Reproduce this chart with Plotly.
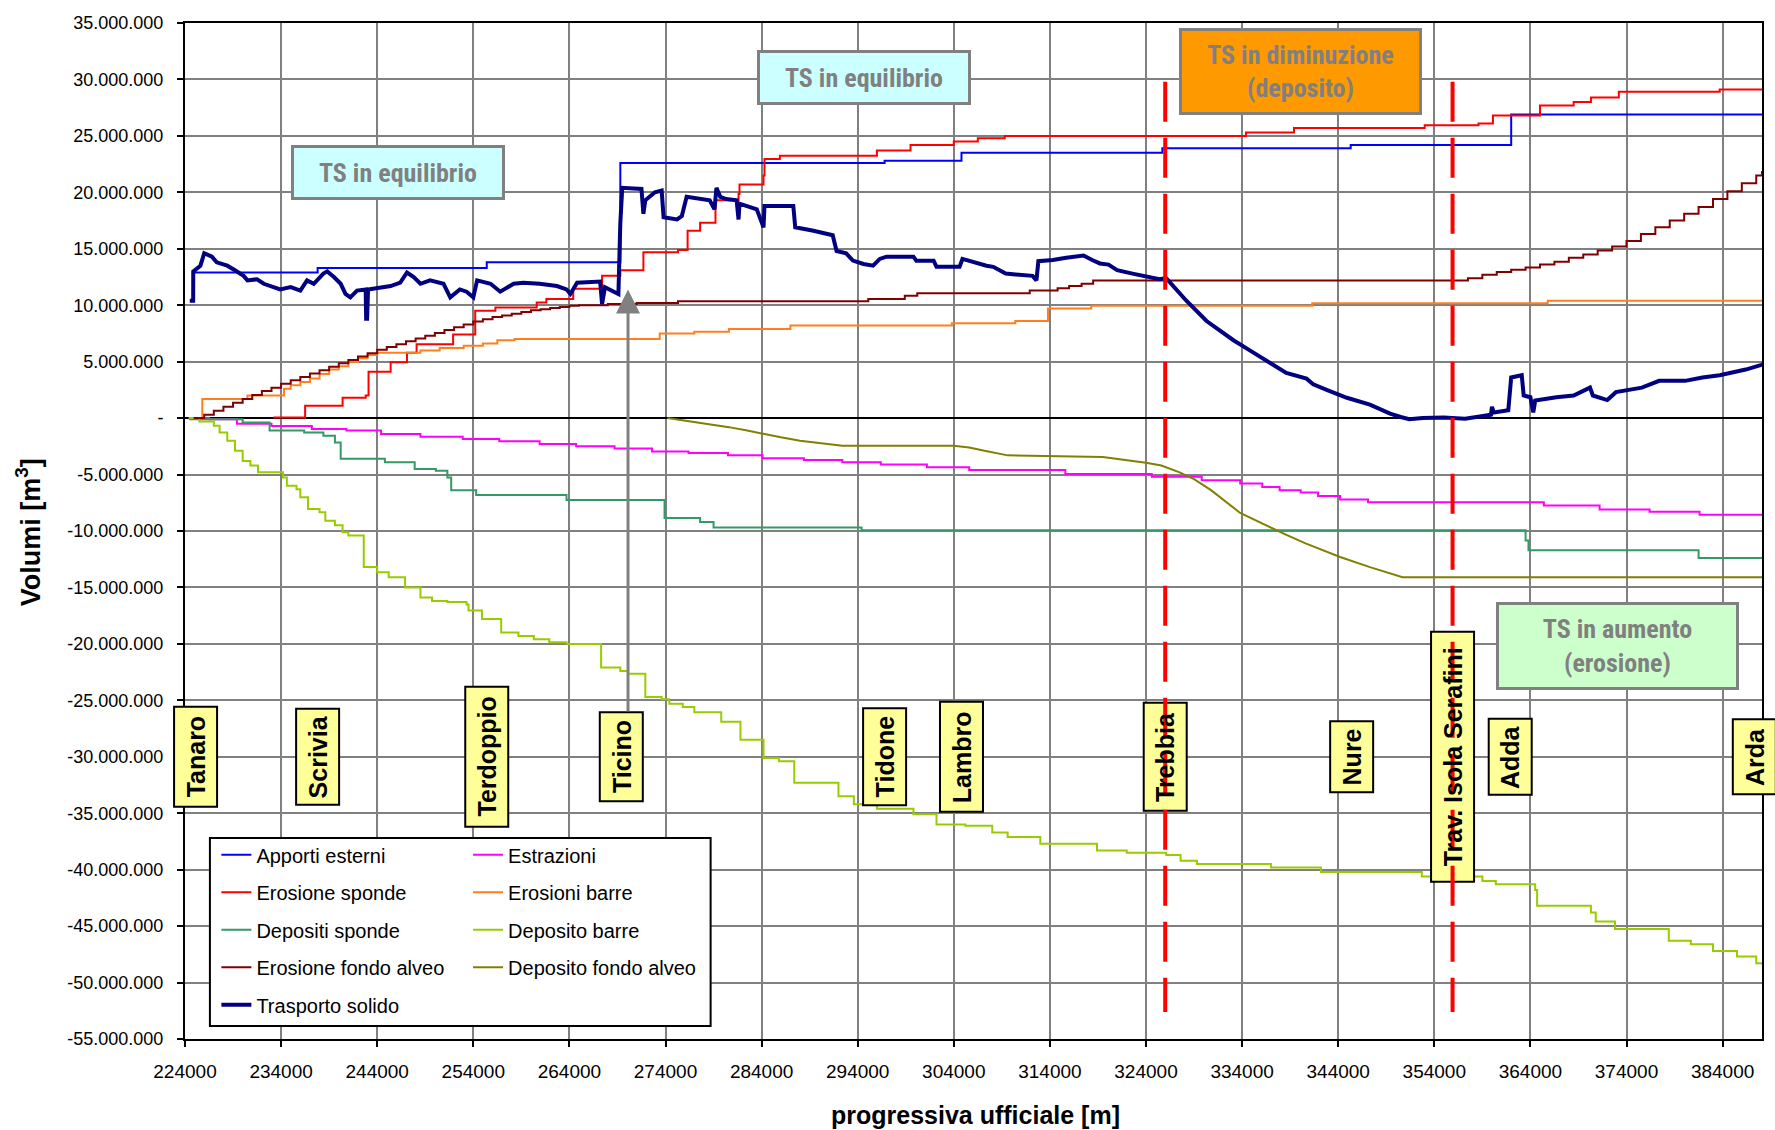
import plotly.graph_objects as go

# ---------------- data (x in km of "progressiva", y in millions of m3) ----------------
apporti_x = [224.9, 237.8, 255.4, 269.3, 296.8, 304.8, 325.7, 345.3, 362.0, 388.1]
apporti_y = [12.9, 13.3, 13.8, 22.6, 22.8, 23.5, 23.9, 24.2, 26.9, 26.9]

erosione_sponde_x = [233.2, 236.5, 240.4, 242.8, 243.1, 245.4, 247.1, 248.1, 251.9, 254.2, 256.3,
                     260.6, 261.6, 264.4, 267.4, 269.3, 271.7, 275.3, 276.3, 277.6, 279.2, 281.6,
                     281.7, 284.2, 284.3, 285.9, 296.0, 299.5, 304.0, 306.5, 309.3, 334.4, 339.4,
                     353.0, 358.6, 360.1, 365.0, 368.5, 370.3, 373.2, 383.7, 388.1]
erosione_sponde_y = [0.05, 1.1, 1.8, 2.0, 4.1, 4.95, 5.8, 6.55, 7.4, 9.5, 9.8,
                     10.25, 10.55, 11.45, 12.6, 13.1, 14.7, 14.9, 16.6, 17.3, 19.3, 19.85,
                     20.7, 21.5, 22.96, 23.25, 23.7, 24.2, 24.5, 24.8, 25.0, 25.3, 25.7,
                     25.95, 26.1, 26.8, 27.7, 28.0, 28.4, 28.9, 29.1, 29.1]

depositi_sponde_x = [224.4, 230.0, 232.8, 236.4, 238.4, 239.6, 240.2, 244.8, 247.9, 250.1, 251.3,
                     251.7, 254.3, 263.7, 273.9, 277.6, 279.0, 294.4, 363.5, 363.8, 381.5, 388.1]
depositi_sponde_y = [-0.1, -0.38, -1.1, -1.27, -1.56, -2.15, -3.6, -3.9, -4.5, -4.66, -5.25,
                     -6.4, -6.8, -7.26, -8.85, -9.2, -9.7, -9.94, -10.85, -11.7, -12.4, -12.4]

erosione_fondo_x = [224.9, 226, 227, 228, 229, 230, 231, 232, 233, 234, 235, 236, 237, 238, 239,
                    240, 241, 242, 243, 244, 245, 246, 247, 248, 249, 250, 251, 252, 253, 254,
                    255, 256, 257, 258, 259, 260, 261, 262, 263, 264, 265, 268, 271, 275.3,
                    295.1, 298.9, 300.2, 311.9, 314.8, 316.0, 317.3, 318.5, 357.5, 359.0,
                    360.5, 362.0, 363.5, 365.0, 366.5, 368.0, 369.5, 371.0, 372.5, 374.0,
                    375.5, 377.0, 378.5, 380.0, 381.5, 383.0, 384.5, 386.0, 387.5, 388.1]
erosione_fondo_y = [0.0, 0.3, 0.65, 1.0, 1.35, 1.7, 2.05, 2.4, 2.7, 3.05, 3.35, 3.65, 3.95, 4.25,
                    4.55, 4.85, 5.15, 5.45, 5.75, 6.05, 6.3, 6.55, 6.8, 7.05, 7.3, 7.55, 7.8,
                    8.05, 8.3, 8.55, 8.75, 8.95, 9.1, 9.25, 9.4, 9.55, 9.65, 9.75, 9.85, 9.95,
                    10.0, 10.1, 10.2, 10.35, 10.55, 10.85, 11.05, 11.3, 11.5, 11.7, 11.9, 12.2,
                    12.4, 12.7, 12.95, 13.15, 13.35, 13.6, 13.85, 14.2, 14.5, 14.85, 15.2, 15.7,
                    16.3, 16.9, 17.5, 18.1, 18.7, 19.4, 20.1, 20.8, 21.5, 21.9]

estrazioni_x = [224.4, 226.5, 229.4, 233.0, 237.2, 240.8, 244.4, 248.5, 252.9, 256.7, 260.9,
                264.7, 268.7, 272.6, 276.4, 280.5, 284.1, 288.4, 292.4, 296.4, 301.2, 305.6,
                315.6, 324.6, 329.8, 333.8, 336.1, 337.9, 340.1, 341.9, 344.2, 347.1, 365.4,
                371.2, 376.4, 381.6, 388.1]
estrazioni_y = [0.0, -0.1, -0.5, -0.7, -0.97, -1.1, -1.4, -1.65, -1.86, -2.06, -2.3,
                -2.5, -2.7, -2.95, -3.1, -3.3, -3.55, -3.7, -3.9, -4.1, -4.35, -4.6,
                -4.95, -5.2, -5.5, -5.8, -6.1, -6.4, -6.6, -6.9, -7.2, -7.45, -7.75,
                -8.1, -8.3, -8.55, -8.55]

erosioni_barre_x = [224.4, 225.8, 230.5, 234.3, 235.0, 236, 237, 238, 239, 240, 241, 242, 243,
                    244, 248.5, 250.5, 253.0, 255.0, 256.5, 258.3, 273.4, 277.0, 280.6, 287.0,
                    303.8, 310.4, 313.8, 318.3, 341.3, 365.8, 388.1]
erosioni_barre_y = [0.0, 1.7, 2.0, 2.6, 2.9, 3.2, 3.5, 3.9, 4.3, 4.6, 5.0, 5.3, 5.6,
                    5.8, 6.0, 6.2, 6.4, 6.6, 6.9, 7.0, 7.5, 7.66, 7.9, 8.2,
                    8.4, 8.6, 9.7, 9.96, 10.17, 10.4, 10.4]

deposito_barre_x = [224.4, 225.5, 227.0, 227.6, 228.4, 229.2, 230.0, 230.8, 231.6, 234.2, 234.6,
                    235.6, 236.0, 236.8, 238.0, 238.6, 239.6, 240.4, 241.0, 242.6, 244.0, 245.2,
                    246.9, 248.5, 249.7, 251.3, 253.3, 253.5, 254.9, 256.9, 258.7, 260.3, 261.9,
                    263.7, 267.3, 269.3, 270.1, 271.9, 273.6, 274.4, 275.8, 277.0, 279.8, 281.8,
                    284.2, 285.8, 287.4, 292.0, 293.6, 296.0, 299.8, 302.2, 305.2, 308.0, 309.6,
                    313.0, 318.9, 322.0, 326.1, 327.6, 329.3, 337.0, 342.2, 352.7, 359.0, 360.4,
                    364.5, 364.7, 370.3, 370.8, 372.8, 378.4, 380.7, 383.0, 385.5, 387.5, 388.1]
deposito_barre_y = [0.0, -0.3, -0.68, -1.27, -2.0, -2.9, -3.8, -4.2, -4.8, -5.25, -6.0,
                    -6.3, -7.0, -8.05, -8.35, -9.1, -9.5, -10.1, -10.4, -13.2, -13.66, -14.1,
                    -15.0, -15.9, -16.2, -16.3, -16.5, -17.05, -17.8, -19.0, -19.3, -19.6, -19.85,
                    -20.0, -22.1, -22.4, -22.65, -24.7, -24.9, -25.3, -25.6, -26.05, -26.9, -28.5,
                    -30.1, -30.4, -32.3, -33.5, -34.2, -34.6, -35.1, -36.0, -36.1, -36.7, -37.1,
                    -37.7, -38.3, -38.5, -38.7, -39.2, -39.5, -39.8, -40.2, -40.6, -41.0, -41.3,
                    -41.8, -43.2, -43.8, -44.6, -45.25, -46.3, -46.6, -47.2, -47.7, -48.3, -48.4]

deposito_fondo_x = [274.2, 276.6, 278.6, 280.6, 282.5, 284.1, 286.0, 288.0, 290.0, 292.4, 304.0,
                    305.6, 307.2, 309.6, 319.5, 321.9, 324.0, 325.6, 327.5, 329.0, 330.8, 333.8,
                    336.2, 338.5, 340.6, 344.2, 347.3, 350.7, 388.1]
deposito_fondo_y = [0.0, -0.3, -0.5, -0.8, -1.1, -1.4, -1.7, -2.0, -2.2, -2.45, -2.45,
                    -2.6, -2.9, -3.3, -3.45, -3.7, -3.95, -4.2, -4.8, -5.4, -6.4, -8.4,
                    -9.4, -10.3, -11.1, -12.3, -13.2, -14.1, -14.1]

trasporto_x = [224.5, 224.85, 224.86, 225.6, 226.0, 226.8, 227.3, 228.4, 229.2, 230.1, 230.5,
               231.5, 232.2, 232.9, 233.9, 235.0, 236.0, 236.7, 237.4, 238.4, 238.8, 239.5,
               240.2, 240.7, 241.2, 241.9, 242.8, 242.85, 242.95, 243.05, 244.3, 245.4, 246.4,
               247.1, 247.8, 248.5, 249.5, 250.9, 251.6, 252.6, 253.3, 254.0, 254.4, 255.8,
               256.8, 258.2, 259.2, 260.9, 262.7, 263.7, 264.1, 264.8, 267.2, 267.4, 267.7,
               268.6, 269.1, 269.3, 269.5, 271.5, 271.7, 271.9, 272.9, 273.6, 273.8, 275.2,
               275.7, 276.2, 277.6, 278.6, 279.1, 279.3, 279.7, 280.3, 281.4, 281.6, 281.7,
               282.4, 283.5, 284.2, 284.3, 287.3, 287.5, 289.4, 291.4, 291.8, 292.8, 293.5,
               294.6, 295.6, 296.3, 297.0, 299.8, 300.1, 301.9, 302.2, 304.6, 304.9, 306.0,
               307.4, 308.1, 309.4, 312.2, 312.6, 312.8, 314.3, 315.7, 317.1, 317.5, 318.4,
               319.2, 320.1, 321.0, 322.6, 324.3, 325.4, 326.1, 326.8, 328.2, 330.3, 333.1,
               334.8, 337.6, 338.6, 340.7, 341.4, 342.8, 344.9, 347.3, 349.4, 350.5, 351.4,
               352.8, 355.0, 357.2, 359.9, 360.0, 360.2, 361.7, 362.0, 363.1, 363.3, 364.0,
               364.3, 364.5, 366.7, 368.5, 370.2, 370.5, 372.0, 372.9, 375.6, 377.4, 380.1,
               381.9, 383.7, 386.4, 388.4]
trasporto_y = [10.4, 10.4, 13.0, 13.5, 14.6, 14.3, 13.8, 13.5, 13.1, 12.6, 12.2,
               12.3, 11.9, 11.7, 11.4, 11.6, 11.3, 12.2, 11.9, 12.8, 13.0, 12.5,
               11.9, 11.0, 10.7, 11.3, 11.4, 8.8, 8.8, 11.4, 11.6, 11.7, 12.0,
               12.9, 12.5, 11.9, 12.2, 11.9, 10.7, 11.4, 11.2, 10.7, 12.2, 11.9,
               11.2, 11.9, 12.0, 11.9, 11.7, 11.4, 11.0, 12.0, 12.1, 10.1, 11.6,
               11.2, 11.0, 17.3, 20.4, 20.3, 18.1, 19.3, 20.0, 20.15, 17.8, 17.6,
               17.9, 19.6, 19.4, 19.3, 18.5, 20.4, 19.6, 19.4, 19.3, 17.6, 19.0,
               18.8, 18.5, 16.9, 18.8, 18.8, 16.9, 16.6, 16.2, 14.8, 14.6, 13.95,
               13.65, 13.5, 14.1, 14.3, 14.3, 13.95, 13.95, 13.4, 13.4, 14.1, 13.8,
               13.5, 13.4, 12.8, 12.6, 12.2, 13.9, 14.0, 14.2, 14.3, 14.4, 14.0,
               13.7, 13.6, 13.1, 12.8, 12.5, 12.3, 12.4, 11.7, 10.4, 8.6, 6.9,
               6.0, 4.6, 4.0, 3.5, 3.0, 2.5, 1.8, 1.2, 0.4, 0.1, -0.1,
               0.0, 0.05, -0.05, 0.3, 1.0, 0.5, 0.7, 3.6, 3.8, 2.0, 1.85,
               0.5, 1.55, 1.85, 2.0, 2.7, 2.0, 1.6, 2.3, 2.7, 3.3, 3.3,
               3.6, 3.8, 4.3, 4.8]

# tick values / labels
y_tick_vals = [35, 30, 25, 20, 15, 10, 5, 0, -5, -10, -15, -20, -25, -30, -35, -40, -45, -50, -55]
y_tick_text = ["35.000.000", "30.000.000", "25.000.000", "20.000.000", "15.000.000", "10.000.000",
               "5.000.000", "-", "-5.000.000", "-10.000.000", "-15.000.000", "-20.000.000",
               "-25.000.000", "-30.000.000", "-35.000.000", "-40.000.000", "-45.000.000",
               "-50.000.000", "-55.000.000"]
x_tick_vals = [224000, 234000, 244000, 254000, 264000, 274000, 284000, 294000, 304000, 314000,
               324000, 334000, 344000, 354000, 364000, 374000, 384000]
x_tick_text = ["224000", "234000", "244000", "254000", "264000", "274000", "284000", "294000",
               "304000", "314000", "324000", "334000", "344000", "354000", "364000", "374000",
               "384000"]

# river labels: name, position (km), box length in px
river_names = ["Tanaro", "Scrivia", "Terdoppio", "Ticino", "Tidone", "Lambro", "Trebbia", "Nure",
               "Trav. Isola Serafini", "Adda", "Arda"]
river_km = [225.1, 237.8, 255.4, 269.4, 296.8, 304.8, 326.0, 345.4, 355.9, 361.9, 387.3]
river_label_y = -30.0
river_box_h = [100, 96, 140, 89, 97, 110, 108, 71, 250, 76, 75]

dashed_km = [326.0, 355.9]

X_RANGE = [224000, 388100]
Y_RANGE = [-55e6, 35e6]
KM = 1000.0
MM3 = 1e6

def sx(v):
    return [a * KM for a in v]

def sy(v):
    return [a * MM3 for a in v]

def paper_x(km):
    return (km * KM - X_RANGE[0]) / (X_RANGE[1] - X_RANGE[0])

FONT = "Liberation Sans, Arial, sans-serif"
NARROW = "Liberation Sans Narrow, Arial Narrow, Roboto Condensed, Liberation Sans, sans-serif"

fig = go.Figure()

series = [
    ("Apporti esterni", apporti_x, apporti_y, "#0000FF", 2, "hv", "legend"),
    ("Estrazioni", estrazioni_x, estrazioni_y, "#FF00FF", 2, "hv", "legend2"),
    ("Erosione sponde", erosione_sponde_x, erosione_sponde_y, "#FF0000", 2, "hv", "legend"),
    ("Erosioni barre", erosioni_barre_x, erosioni_barre_y, "#FF7F1F", 2, "hv", "legend2"),
    ("Depositi sponde", depositi_sponde_x, depositi_sponde_y, "#339966", 2, "hv", "legend"),
    ("Deposito barre", deposito_barre_x, deposito_barre_y, "#99CC00", 2, "hv", "legend2"),
    ("Erosione fondo alveo", erosione_fondo_x, erosione_fondo_y, "#800000", 2, "hv", "legend"),
    ("Deposito fondo alveo", deposito_fondo_x, deposito_fondo_y, "#808000", 2, "linear", "legend2"),
    ("Trasporto solido", trasporto_x, trasporto_y, "#000080", 4, "linear", "legend"),
]
for i, (name, xs, ys, col, w, shape, lg) in enumerate(series):
    fig.add_trace(go.Scatter(
        x=sx(xs), y=sy(ys), mode="lines", name=name,
        line=dict(color=col, width=w, shape=shape),
        legend=lg, legendgroup=f"g{i}", showlegend=True,
    ))

shapes = []
# legend frame
shapes.append(dict(type="rect", xref="paper", yref="paper", x0=0.0158, x1=0.3333, y0=0.0128, y1=0.1978,
                   fillcolor="white", line=dict(color="black", width=2), layer="above"))
# river boxes (x in paper so they are not clipped at the plot edges)
for km, h in zip(river_km, river_box_h):
    shapes.append(dict(type="rect", xref="paper", yref="y", xsizemode="pixel", ysizemode="pixel",
                       xanchor=paper_x(km), yanchor=river_label_y * MM3,
                       x0=-21.5, x1=21.5, y0=-h / 2, y1=h / 2,
                       fillcolor="#FFFF99", line=dict(color="black", width=2), layer="above"))
# red dashed lines
for km in dashed_km:
    shapes.append(dict(type="line", xref="x", yref="y", x0=km * KM, x1=km * KM,
                       y0=29.8 * MM3, y1=-52.6 * MM3,
                       line=dict(color="#FF0000", width=4, dash="40px,16px"), layer="above"))

annotations = []
for name, km in zip(river_names, river_km):
    annotations.append(dict(x=km * KM, y=river_label_y * MM3, xref="x", yref="y", text=name,
                            showarrow=False, textangle=-90, xanchor="center", yanchor="middle",
                            font=dict(family=FONT, size=25, color="black", weight="bold")))

ts_boxes = [
    ("TS in equilibrio", 246.2, 21.8, "#CCFFFF", 208, 49),
    ("TS in equilibrio", 294.7, 30.2, "#CCFFFF", 208, 49),
    ("TS in diminuzione<br>(deposito)", 340.1, 30.7, "#FF9900", 237, 81),
    ("TS in aumento<br>(erosione)", 373.1, -20.2, "#CCFFCC", 237, 82),
]
for txt, km, v, bg, w, h in ts_boxes:
    annotations.append(dict(x=km * KM, y=v * MM3, xref="x", yref="y", text=txt, showarrow=False,
                            bgcolor=bg, bordercolor="#808080", borderwidth=3, borderpad=0,
                            width=w, height=h, align="center", valign="middle",
                            font=dict(family=NARROW, size=26, color="#808080", weight="bold")))

# arrow from the Ticino label
annotations.append(dict(x=270.1 * KM, y=11.4 * MM3, ax=270.1 * KM, ay=-26.1 * MM3,
                        xref="x", yref="y", axref="x", ayref="y", text="", showarrow=True,
                        arrowhead=2, arrowsize=1.6, arrowwidth=3, arrowcolor="#808080", standoff=0))

# axis titles
annotations.append(dict(x=-0.0994, y=0.499, xref="paper", yref="paper", text="Volumi [m<sup>3</sup>]",
                        showarrow=False, textangle=-90, xanchor="center", yanchor="middle",
                        font=dict(family=FONT, size=27, color="black", weight="bold")))
annotations.append(dict(x=0.501, y=-0.0748, xref="paper", yref="paper",
                        text="progressiva ufficiale [m]", showarrow=False,
                        xanchor="center", yanchor="middle",
                        font=dict(family=FONT, size=25, color="black", weight="bold")))

axis_common = dict(showgrid=True, gridcolor="#808080", gridwidth=1.5, showline=True,
                   linecolor="black", linewidth=2, mirror=True, ticks="outside", ticklen=6,
                   tickcolor="black", tickwidth=2)

fig.update_layout(
    width=1775, height=1130,
    margin=dict(l=185, r=11, t=23, b=91),
    paper_bgcolor="white", plot_bgcolor="white",
    font=dict(family=FONT, color="black"),
    xaxis=dict(range=X_RANGE, tickmode="array", tickvals=x_tick_vals, ticktext=x_tick_text,
               zeroline=False, ticklabelstandoff=8,
               tickfont=dict(family=FONT, size=19, color="black"), **axis_common),
    yaxis=dict(range=Y_RANGE, tickmode="array", tickvals=[v * MM3 for v in y_tick_vals],
               ticktext=y_tick_text, zeroline=True, zerolinecolor="black", zerolinewidth=2,
               ticklabelstandoff=10, tickfont=dict(family=FONT, size=18, color="black"),
               **axis_common),
    legend=dict(x=0.0199, y=0.2005, xanchor="left", yanchor="top", bgcolor="rgba(0,0,0,0)",
                borderwidth=0, tracegroupgap=8.5, font=dict(family=FONT, size=20, color="black"),
                orientation="v"),
    legend2=dict(x=0.1795, y=0.2005, xanchor="left", yanchor="top", bgcolor="rgba(0,0,0,0)",
                 borderwidth=0, tracegroupgap=8.5, font=dict(family=FONT, size=20, color="black"),
                 orientation="v"),
    shapes=shapes,
    annotations=annotations,
)

fig.write_html("out.html", config={"displayModeBar": False},
               post_script="document.body.style.margin='0px';")
